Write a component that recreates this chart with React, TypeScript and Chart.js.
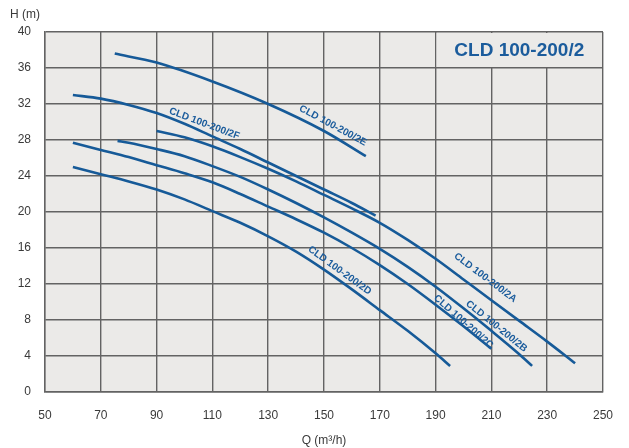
import React, { useEffect, useRef } from "react";
import { Chart, registerables } from "chart.js";

Chart.register(...registerables);

// ---- Data ----
const X_MIN = 50;
const X_MAX = 250;
const X_STEP = 20;
const Y_MIN = 0;
const Y_MAX = 40;
const Y_STEP = 4;

const CHART_TITLE = "CLD 100-200/2";
const X_TITLE = "Q (m³/h)";
const Y_TITLE = "H (m)";

const E_Q = [75, 90, 110, 130, 150, 165];
const E_H = [37.6, 36.6, 34.5, 32.0, 29.0, 26.2];

const F_Q = [60, 70, 80, 90, 100, 110, 120, 130, 140, 150, 160, 168.5];
const F_H = [33.0, 32.6, 31.9, 31.0, 29.8, 28.4, 27.0, 25.5, 24.0, 22.5, 21.0, 19.6];

const A_Q = [90, 100, 110, 120, 130, 140, 150, 160, 170, 180, 190, 200, 210, 220, 230, 240];
const A_H = [29.0, 28.3, 27.3, 26.1, 24.8, 23.4, 21.9, 20.4, 18.8, 16.9, 14.8, 12.5, 10.2, 7.9, 5.6, 3.2];

const B_Q = [76, 80, 90, 100, 110, 120, 130, 140, 150, 160, 170, 180, 190, 200, 210, 220, 224.6];
const B_H = [27.9, 27.7, 27.0, 26.2, 25.1, 23.9, 22.5, 21.0, 19.4, 17.7, 15.9, 13.9, 11.7, 9.3, 6.8, 4.2, 2.9];

const C_Q = [60, 70, 80, 90, 100, 110, 120, 130, 140, 150, 160, 170, 180, 190, 200, 210];
const C_H = [27.7, 26.9, 26.1, 25.2, 24.3, 23.3, 22.0, 20.6, 19.2, 17.7, 16.0, 14.1, 12.0, 9.7, 7.3, 4.8];

const D_Q = [60, 70, 80, 90, 100, 110, 120, 130, 140, 150, 160, 170, 180, 190, 195.2];
const D_H = [25.0, 24.2, 23.4, 22.5, 21.4, 20.1, 18.8, 17.3, 15.6, 13.6, 11.4, 9.1, 6.8, 4.3, 2.9];

const CURVE_NAMES = ["CLD 100-200/2E", "CLD 100-200/2F", "CLD 100-200/2A", "CLD 100-200/2B", "CLD 100-200/2C", "CLD 100-200/2D"];
const CURVE_Q = [E_Q, F_Q, A_Q, B_Q, C_Q, D_Q];
const CURVE_H = [E_H, F_H, A_H, B_H, C_H, D_H];

// label anchor (in data units) and rotation (deg)
const LABEL_Q = [153.2, 107.1, 207.8, 211.8, 200.0, 155.6];
const LABEL_H = [29.6, 29.8, 12.7, 7.3, 7.8, 13.5];
const LABEL_ANGLE = [28.3, 20.6, 36.9, 38.9, 41.4, 36.0];

// ---- Styles ----
const PLOT_BG = "#ebeae8";
const GRID = "#636363";
const LINE = "#165a98";
const TEXT_BLUE = "#1b5c9c";
const TICK_FONT = "'Liberation Sans', Arial, sans-serif";

const decorPlugin = {
  id: "decor",
  beforeDraw(chart: any) {
    const { ctx, chartArea } = chart;
    ctx.save();
    ctx.fillStyle = PLOT_BG;
    ctx.fillRect(chartArea.left, chartArea.top, chartArea.right - chartArea.left, chartArea.bottom - chartArea.top);
    ctx.restore();
  },
  beforeDatasetsDraw(chart: any) {
    const { ctx } = chart;
    const xs = chart.scales.x;
    const ys = chart.scales.y;
    // title box covering the top-right grid cells
    const x0 = xs.getPixelForValue(190) + 1;
    const x1 = xs.getPixelForValue(250) - 1;
    const y0 = ys.getPixelForValue(40) + 1;
    const y1 = ys.getPixelForValue(36) - 1;
    ctx.save();
    ctx.fillStyle = PLOT_BG;
    ctx.fillRect(x0, y0, x1 - x0, y1 - y0);
    ctx.fillStyle = TEXT_BLUE;
    ctx.font = "bold 19px 'Liberation Sans', Arial, sans-serif";
    ctx.textAlign = "center";
    ctx.textBaseline = "middle";
    ctx.fillText(CHART_TITLE, (x0 + x1) / 2, (y0 + y1) / 2 + 1);
    ctx.restore();
    // y-axis title
    ctx.save();
    ctx.fillStyle = "#3a3a3a";
    ctx.font = "12px " + TICK_FONT;
    ctx.textAlign = "center";
    ctx.textBaseline = "middle";
    ctx.fillText(Y_TITLE, 25, 15);
    ctx.restore();
  },
  afterDatasetsDraw(chart: any) {
    const { ctx } = chart;
    const xs = chart.scales.x;
    const ys = chart.scales.y;
    ctx.save();
    ctx.fillStyle = TEXT_BLUE;
    ctx.font = "bold 10px 'Liberation Sans', Arial, sans-serif";
    ctx.textAlign = "center";
    ctx.textBaseline = "middle";
    for (let i = 0; i < CURVE_NAMES.length; i++) {
      const px = xs.getPixelForValue(LABEL_Q[i]);
      const py = ys.getPixelForValue(LABEL_H[i]);
      ctx.save();
      ctx.translate(px, py);
      ctx.rotate((LABEL_ANGLE[i] * Math.PI) / 180);
      ctx.fillText(CURVE_NAMES[i], 0, 0);
      ctx.restore();
    }
    ctx.restore();
  },
};

export default function App() {
  const canvasRef = useRef<HTMLCanvasElement | null>(null);

  useEffect(() => {
    document.body.style.margin = "0";
    const canvas = canvasRef.current;
    if (!canvas) return;
    const datasets = CURVE_NAMES.map((name, i) => ({
      label: name,
      data: CURVE_Q[i].map((q, j) => ({ x: q, y: CURVE_H[i][j] })),
      borderColor: LINE,
      borderWidth: 2.6,
      pointRadius: 0,
      fill: false,
      cubicInterpolationMode: "monotone" as const,
      borderCapStyle: "butt" as const,
    }));
    const chart = new Chart(canvas, {
      type: "line",
      data: { datasets },
      options: {
        animation: false,
        responsive: false,
        maintainAspectRatio: false,
        layout: { padding: { left: 0, right: 24, top: 32, bottom: 0 } },
        plugins: {
          legend: { display: false },
          tooltip: { enabled: false },
          title: { display: false },
        },
        scales: {
          x: {
            type: "linear",
            min: X_MIN,
            max: X_MAX,
            afterFit: (scale: any) => {
              scale.height = 56;
            },
            ticks: {
              stepSize: X_STEP,
              color: "#3a3a3a",
              font: { family: TICK_FONT, size: 12 },
              padding: 16,
              maxRotation: 0,
            },
            grid: { color: GRID, lineWidth: 1.4, drawTicks: false },
            border: { color: GRID, width: 1.4 },
            title: {
              display: true,
              text: X_TITLE,
              color: "#3a3a3a",
              font: { family: TICK_FONT, size: 12 },
              padding: { top: 0, bottom: 0 },
            },
          },
          y: {
            type: "linear",
            min: Y_MIN,
            max: Y_MAX,
            afterFit: (scale: any) => {
              scale.width = 45;
            },
            ticks: {
              stepSize: Y_STEP,
              color: "#3a3a3a",
              font: { family: TICK_FONT, size: 12 },
              padding: 14,
            },
            grid: { color: GRID, lineWidth: 1.4, drawTicks: false },
            border: { color: GRID, width: 1.4 },
          },
        },
      },
      plugins: [decorPlugin],
    });
    return () => chart.destroy();
  }, []);

  return (
    <div style={{ width: 629, height: 448, position: "relative" }}>
      <canvas ref={canvasRef} width={629} height={448} style={{ display: "block" }} />
    </div>
  );
}
